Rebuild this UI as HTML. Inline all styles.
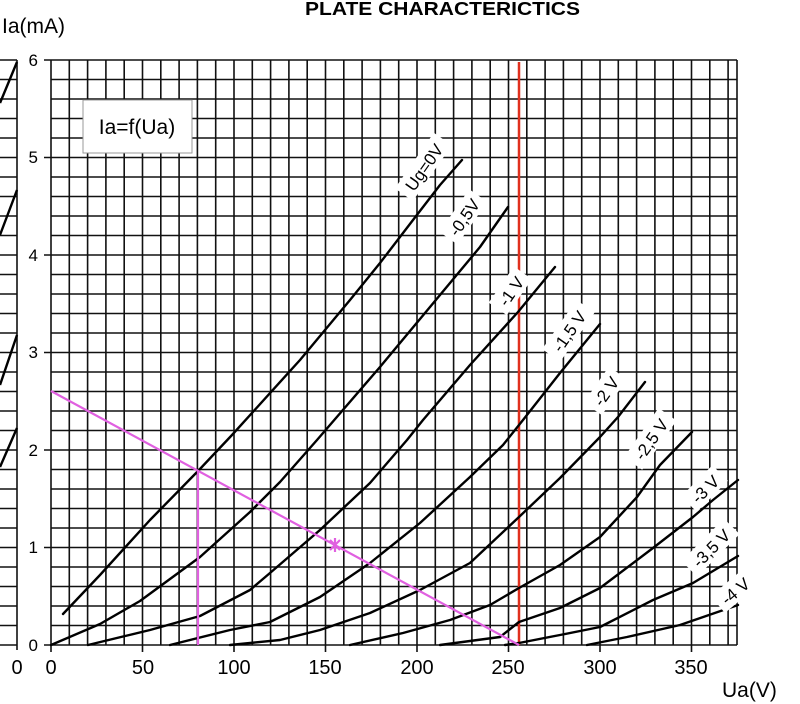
<!DOCTYPE html>
<html><head><meta charset="utf-8"><style>
html,body{margin:0;padding:0;background:#fff;}
svg{display:block;font-family:"Liberation Sans",Arial,sans-serif;}
</style></head><body>
<svg width="800" height="704" viewBox="0 0 800 704" xmlns="http://www.w3.org/2000/svg">
<rect width="800" height="704" fill="#fff"/>
<text x="305" y="15" font-size="18" font-weight="bold" textLength="275" lengthAdjust="spacingAndGlyphs">PLATE CHARACTERICTICS</text>
<text x="2" y="33" font-size="21">Ia(mA)</text>
<text x="722" y="697" font-size="21">Ua(V)</text>
<g stroke="#111" stroke-width="1.6" fill="none">
<path d="M51 60V645M69.3 60V645M87.6 60V645M105.9 60V645M124.2 60V645M142.5 60V645M160.8 60V645M179.1 60V645M197.4 60V645M215.7 60V645M234 60V645M252.3 60V645M270.6 60V645M288.9 60V645M307.2 60V645M325.5 60V645M343.8 60V645M362.1 60V645M380.4 60V645M398.7 60V645M417 60V645M435.3 60V645M453.6 60V645M471.9 60V645M490.2 60V645M508.5 60V645M526.8 60V645M545.1 60V645M563.4 60V645M581.7 60V645M600 60V645M618.3 60V645M636.6 60V645M654.9 60V645M673.2 60V645M691.5 60V645M709.8 60V645M728.1 60V645M737 60V645"/>
<path d="M44 645H737M51 625.5H737M51 606H737M51 586.5H737M51 567H737M44 547.5H737M51 528H737M51 508.5H737M51 489H737M51 469.5H737M44 450H737M51 430.5H737M51 411H737M51 391.5H737M51 372H737M44 352.5H737M51 333H737M51 313.5H737M51 294H737M51 274.5H737M44 255H737M51 235.5H737M51 216H737M51 196.5H737M51 177H737M44 157.5H737M51 138H737M51 118.5H737M51 99H737M51 79.5H737M44 60H737"/>
<path d="M51 645V652M142.5 645V652M234 645V652M325.5 645V652M417 645V652M508.5 645V652M600 645V652M691.5 645V652"/>
<path d="M17 60V650M0 645H17M0 625.5H17M0 606H17M0 586.5H17M0 567H17M0 547.5H17M0 528H17M0 508.5H17M0 489H17M0 469.5H17M0 450H17M0 430.5H17M0 411H17M0 391.5H17M0 372H17M0 352.5H17M0 333H17M0 313.5H17M0 294H17M0 274.5H17M0 255H17M0 235.5H17M0 216H17M0 196.5H17M0 177H17M0 157.5H17M0 138H17M0 118.5H17M0 99H17M0 79.5H17M0 60H17"/>
</g>
<g stroke="#000" stroke-width="2.4" fill="none">
<path d="M0 103L17 62M0 235L17 190M0 385L17 335M0 467L17 428"/>
</g>
<g font-size="17" text-anchor="end">
<text x="38" y="651">0</text><text x="38" y="553">1</text><text x="38" y="456">2</text><text x="38" y="358">3</text><text x="38" y="261">4</text><text x="38" y="163">5</text><text x="38" y="66">6</text>
</g>
<g font-size="20" text-anchor="middle">
<text x="17" y="674">0</text><text x="51" y="674">0</text><text x="143" y="674">50</text><text x="234" y="674">100</text><text x="325" y="674">150</text><text x="417" y="674">200</text><text x="508" y="674">250</text><text x="600" y="674">300</text><text x="691" y="674">350</text>
</g>
<line x1="519" y1="62" x2="519" y2="645" stroke="#e0301e" stroke-width="2.5"/>
<g stroke="#000" stroke-width="2.4" fill="none" stroke-linejoin="round" stroke-linecap="round">
<polyline points="63,614 100,575 150,520 199,470 232,435 300,360 350,300 380,263 413,220 440,185 462,160"/>
<polyline points="51,645 100,624 140,601 200,557 250,512 280,482 317,440 380,367 430,307 480,247 508,207"/>
<polyline points="88,645 150,630 200,616 250,590 270,573 320,530 370,483 407,440 423,420 470,365 518,312 555,267"/>
<polyline points="170,645 230,630 270,622 320,597 370,563 420,523 470,477 503,445 523,420 560,373 600,324"/>
<polyline points="230,645 280,640 320,630 370,613 420,590 470,563 519,517 560,478 600,437 618,417 645,382"/>
<polyline points="350,645 403,633 450,620 490,605 519,588 560,565 600,537 637,497 660,465 692,432"/>
<polyline points="440,645 500,637 519,622 560,608 600,588 653,548 693,517 713,500 738,480"/>
<polyline points="505,645 519,643 560,635 600,627 653,600 693,583 738,556"/>
<polyline points="587,645 627,637 680,625 738,605"/>
</g>
<g stroke="#e060e0" stroke-width="2.2" fill="none">
<line x1="51" y1="391" x2="519" y2="645"/>
<line x1="198" y1="470" x2="198" y2="645"/>
<path d="M330 540L340 550M340 540L330 550M335 538V552"/>
</g>
<rect x="83" y="100" width="109" height="53" fill="#fff" stroke="#999" stroke-width="1"/>
<text x="137" y="134" font-size="21" text-anchor="middle">Ia=f(Ua)</text>
<g font-size="17" text-anchor="middle">
<g transform="translate(425,168) rotate(-55)"><rect x="-34" y="-13" width="68" height="22" fill="#fff"/><text y="5">Ug=0V</text></g>
<g transform="translate(465,218) rotate(-55)"><rect x="-26" y="-13" width="52" height="22" fill="#fff"/><text y="5">-0,5V</text></g>
<g transform="translate(512,292) rotate(-55)"><rect x="-22" y="-13" width="44" height="22" fill="#fff"/><text y="5">-1 V</text></g>
<g transform="translate(570,332) rotate(-55)"><rect x="-30" y="-13" width="60" height="22" fill="#fff"/><text y="5">-1,5 V</text></g>
<g transform="translate(607,392) rotate(-55)"><rect x="-22" y="-13" width="44" height="22" fill="#fff"/><text y="5">-2 V</text></g>
<g transform="translate(652,440) rotate(-55)"><rect x="-30" y="-13" width="60" height="22" fill="#fff"/><text y="5">-2,5 V</text></g>
<g transform="translate(706,490) rotate(-45)"><rect x="-22" y="-13" width="44" height="22" fill="#fff"/><text y="5">-3 V</text></g>
<g transform="translate(712,549) rotate(-45)"><rect x="-30" y="-13" width="60" height="22" fill="#fff"/><text y="5">-3,5 V</text></g>
<g transform="translate(736,592) rotate(-40)"><rect x="-22" y="-13" width="44" height="22" fill="#fff"/><text y="5">-4 V</text></g>
</g>
</svg>
</body></html>
